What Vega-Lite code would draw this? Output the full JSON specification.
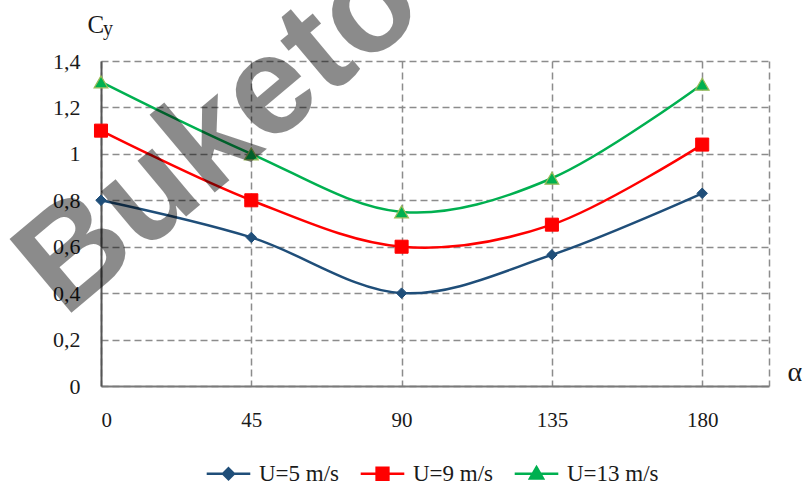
{
  "$schema": "https://vega.github.io/schema/vega-lite/v6.json",
  "width": 668,
  "height": 325,
  "autosize": "none",
  "padding": {"left": 101, "top": 61, "right": 35, "bottom": 100},
  "background": "white",
  "config": {"view": {"stroke": null}},
  "datasets": {
    "main": [
      {"alpha": 0, "cy": 0.80, "series": "U=5 m/s"},
      {"alpha": 45, "cy": 0.64, "series": "U=5 m/s"},
      {"alpha": 90, "cy": 0.40, "series": "U=5 m/s"},
      {"alpha": 135, "cy": 0.565, "series": "U=5 m/s"},
      {"alpha": 180, "cy": 0.83, "series": "U=5 m/s"},
      {"alpha": 0, "cy": 1.10, "series": "U=9 m/s"},
      {"alpha": 45, "cy": 0.80, "series": "U=9 m/s"},
      {"alpha": 90, "cy": 0.60, "series": "U=9 m/s"},
      {"alpha": 135, "cy": 0.695, "series": "U=9 m/s"},
      {"alpha": 180, "cy": 1.04, "series": "U=9 m/s"},
      {"alpha": 0, "cy": 1.31, "series": "U=13 m/s"},
      {"alpha": 45, "cy": 1.00, "series": "U=13 m/s"},
      {"alpha": 90, "cy": 0.75, "series": "U=13 m/s"},
      {"alpha": 135, "cy": 0.895, "series": "U=13 m/s"},
      {"alpha": 180, "cy": 1.30, "series": "U=13 m/s"}
    ],
    "mark": [
      {"alpha": -11, "cy": 0.29, "label": "Buketov"}
    ],
    "sub": [
      {"alpha": 0.6, "cy": 1.512, "label": "y"}
    ]
  },
  "layer": [
    {
      "data": {"name": "main"},
      "mark": {"type": "line", "interpolate": "cardinal", "strokeWidth": 2.5},
      "encoding": {
        "x": {
          "field": "alpha", "type": "quantitative",
          "scale": {"domain": [0, 200], "nice": false, "zero": false},
          "axis": {
            "values": [0, 45, 90, 135, 180, 200],
            "labelExpr": "datum.value == 200 ? '' : datum.label",
            "grid": true, "gridDash": [7, 4], "gridColor": "#8c8c8c", "gridWidth": 1.5,
            "ticks": false,
            "domainColor": "#7a7a7a", "domainWidth": 2,
            "labelFont": "Liberation Serif", "labelFontSize": 21, "labelColor": "#1a1a1a",
            "labelPadding": 23,
            "title": "α", "titleFont": "Liberation Serif", "titleFontSize": 28, "titleFontWeight": "normal",
            "titleColor": "#1a1a1a", "titleAngle": 0, "titleX": 686, "titleY": -6,
            "titleAlign": "left", "titleBaseline": "alphabetic"
          }
        },
        "y": {
          "field": "cy", "type": "quantitative",
          "scale": {"domain": [0, 1.4], "nice": false},
          "axis": {
            "values": [0, 0.2, 0.4, 0.6, 0.8, 1, 1.2, 1.4],
            "labelExpr": "replace(format(datum.value, '~g'), '.', ',')",
            "grid": true, "gridDash": [7, 4], "gridColor": "#8c8c8c", "gridWidth": 1.5,
            "ticks": false,
            "domainColor": "#555555", "domainWidth": 2,
            "labelFont": "Liberation Serif", "labelFontSize": 22, "labelColor": "#1a1a1a",
            "labelPadding": 21,
            "title": "C", "titleFont": "Liberation Serif", "titleFontSize": 25, "titleFontWeight": "normal",
            "titleColor": "#1a1a1a", "titleAngle": 0, "titleX": -14, "titleY": -29,
            "titleAlign": "left", "titleBaseline": "alphabetic"
          }
        },
        "color": {
          "field": "series", "type": "nominal",
          "scale": {"domain": ["U=5 m/s", "U=9 m/s", "U=13 m/s"], "range": ["#1f4e79", "#ff0000", "#00b050"]},
          "legend": {
            "orient": "none", "legendX": 104, "legendY": 389,
            "direction": "horizontal", "title": null,
            "labelFont": "Liberation Serif", "labelFontSize": 23, "labelColor": "#1a1a1a",
            "labelOffset": 7, "columnPadding": 15, "symbolSize": 1900, "symbolStrokeWidth": 2.5,
            "labelLimit": 300,
            "encode": {
              "symbols": {
                "update": {
                  "shape": {"signal": "datum.value == 'U=5 m/s' ? 'M-1,0L1,0M0,-0.25L0.25,0L0,0.25L-0.25,0Z' : datum.value == 'U=9 m/s' ? 'M-1,0L1,0M-0.27,-0.27L0.27,-0.27L0.27,0.27L-0.27,0.27Z' : 'M-1,0L1,0M0,-0.3L0.3,0.22L-0.3,0.22Z'"},
                  "size": {"value": 1900},
                  "fill": {"scale": "color", "field": "value"},
                  "stroke": {"scale": "color", "field": "value"},
                  "strokeWidth": {"value": 2.5},
                  "opacity": {"value": 1}
                }
              }
            }
          }
        }
      }
    },
    {
      "data": {"name": "main"},
      "transform": [{"filter": "datum.series == 'U=5 m/s'"}],
      "mark": {"type": "point", "filled": true, "opacity": 1, "shape": "diamond", "size": 110, "fill": "#1f4e79", "stroke": "#1f4e79", "strokeWidth": 1},
      "encoding": {
        "x": {"field": "alpha", "type": "quantitative"},
        "y": {"field": "cy", "type": "quantitative"}
      }
    },
    {
      "data": {"name": "main"},
      "transform": [{"filter": "datum.series == 'U=9 m/s'"}],
      "mark": {"type": "point", "filled": true, "opacity": 1, "shape": "square", "size": 170, "fill": "#ff0000", "stroke": "#ff0000", "strokeWidth": 1},
      "encoding": {
        "x": {"field": "alpha", "type": "quantitative"},
        "y": {"field": "cy", "type": "quantitative"}
      }
    },
    {
      "data": {"name": "main"},
      "transform": [{"filter": "datum.series == 'U=13 m/s'"}],
      "mark": {"type": "point", "filled": true, "opacity": 1, "shape": "triangle-up", "size": 190, "fill": "#00b050", "stroke": "#9bbb59", "strokeWidth": 1.2},
      "encoding": {
        "x": {"field": "alpha", "type": "quantitative"},
        "y": {"field": "cy", "type": "quantitative"}
      }
    },
    {
      "data": {"name": "sub"},
      "mark": {"type": "text", "align": "left", "baseline": "alphabetic", "font": "Liberation Serif", "fontSize": 20, "fill": "#1a1a1a"},
      "encoding": {
        "x": {"field": "alpha", "type": "quantitative"},
        "y": {"field": "cy", "type": "quantitative"},
        "text": {"field": "label"}
      }
    },
    {
      "data": {"name": "mark"},
      "mark": {"type": "text", "angle": -40, "align": "left", "baseline": "alphabetic", "font": "Liberation Sans", "fontWeight": "bold", "fontSize": 140, "fill": "#000000", "opacity": 0.45},
      "encoding": {
        "x": {"field": "alpha", "type": "quantitative"},
        "y": {"field": "cy", "type": "quantitative"},
        "text": {"field": "label"}
      }
    }
  ]
}
